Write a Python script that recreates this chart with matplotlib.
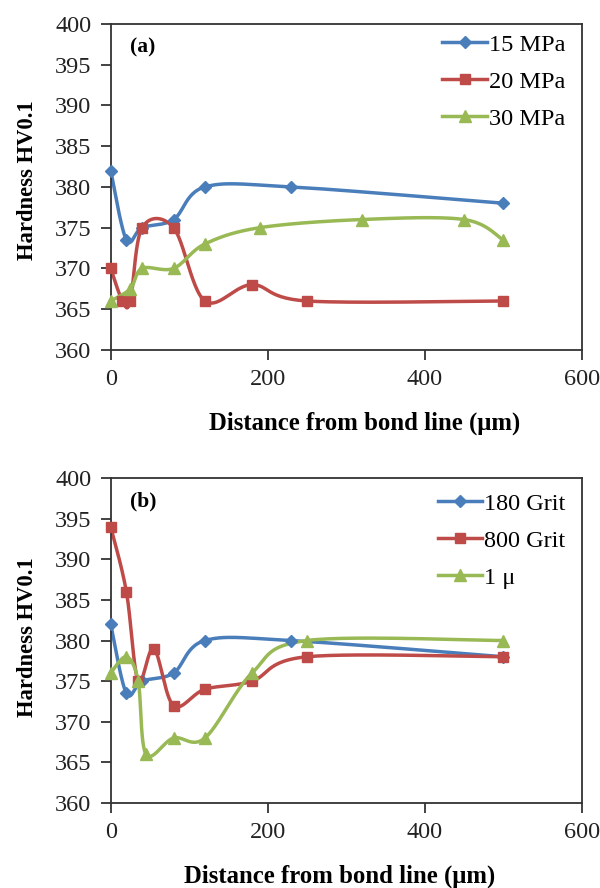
import numpy as np
import matplotlib
matplotlib.use("Agg")
import matplotlib.pyplot as plt

plt.rcParams['font.family'] = ['Liberation Serif', 'DejaVu Serif']

# panel (a): bonding pressure
a_x_15 = [0, 20, 40, 80, 120, 230, 500]
a_y_15 = [382, 373.5, 375, 376, 380, 380, 378]
a_x_20 = [0, 15, 25, 40, 80, 120, 180, 250, 500]
a_y_20 = [370, 366, 366, 375, 375, 366, 368, 366, 366]
a_x_30 = [0, 25, 40, 80, 120, 190, 320, 450, 500]
a_y_30 = [366, 367.5, 370, 370, 373, 375, 376, 376, 373.5]

# panel (b): surface finish
b_x_180 = [0, 20, 40, 80, 120, 230, 500]
b_y_180 = [382, 373.5, 375, 376, 380, 380, 378]
b_x_800 = [0, 20, 35, 55, 80, 120, 180, 250, 500]
b_y_800 = [394, 386, 375, 379, 372, 374, 375, 378, 378]
b_x_1u = [0, 20, 35, 45, 80, 120, 180, 250, 500]
b_y_1u = [376, 378, 375, 366, 368, 368, 376, 380, 380]

blue = '#4A7EBB'
red = '#BE4B48'
green = '#98B954'


def smooth(x, y, n=30):
    # excel-like smoothed line (catmull-rom through the points)
    p = np.column_stack([x, y]).astype(float)
    p = np.vstack([p[0], p, p[-1]])
    out = []
    for i in range(1, len(p) - 2):
        p0, p1, p2, p3 = p[i - 1], p[i], p[i + 1], p[i + 2]
        c1 = p1 + (p2 - p0) / 6
        c2 = p2 - (p3 - p1) / 6
        t = np.linspace(0, 1, n)[:, None]
        seg = (1 - t)**3 * p1 + 3 * (1 - t)**2 * t * c1 + 3 * (1 - t) * t**2 * c2 + t**3 * p2
        out.append(seg)
    out = np.vstack(out)
    return out[:, 0], out[:, 1]


def series(ax, x, y, color, marker, ms, label):
    sx, sy = smooth(x, y)
    ax.plot(sx, sy, color=color, lw=2.5, zorder=2, clip_on=False)
    ax.plot(x, y, ls='none', marker=marker, ms=ms, color=color, zorder=3, clip_on=False)
    # proxy for legend
    ax.plot([], [], color=color, lw=2.5, marker=marker, ms=ms, label=label)


def style(ax, tag, xlab_pos, ylab_pos, leg_top):
    ax.set_xlim(0, 600)
    ax.set_ylim(360, 400)
    ax.set_xticks([0, 200, 400, 600])
    ax.set_yticks(np.arange(360, 401, 5))
    ax.tick_params(direction='out', length=7, width=1.2, labelsize=17.5, colors='#222222', pad=7)
    for s in ax.spines.values():
        s.set_linewidth(1.3)
        s.set_color('#333333')
    ax.set_xlabel('Distance from bond line (μm)', fontsize=17.8, fontweight='bold')
    ax.xaxis.set_label_coords(xlab_pos, -0.19)
    ax.set_ylabel('Hardness HV0.1', fontsize=16.3, fontweight='bold')
    ax.yaxis.set_label_coords(-0.155, ylab_pos)
    ax.text(0.04, 0.96, tag, transform=ax.transAxes, fontsize=15.5, fontweight='bold',
            va='top', ha='left')
    ax.legend(loc='upper right', bbox_to_anchor=(0.975, leg_top), frameon=False, fontsize=17.5,
              handlelength=1.85, handletextpad=0.05, labelspacing=0.62,
              borderaxespad=0, borderpad=0.2)


fig = plt.figure(figsize=(6, 8.88), dpi=100)

ax1 = fig.add_axes([0.1845, 0.606, 0.785, 0.367])
series(ax1, a_x_15, a_y_15, blue, 'D', 6.5, '15 MPa')
series(ax1, a_x_20, a_y_20, red, 's', 7, '20 MPa')
series(ax1, a_x_30, a_y_30, green, '^', 8, '30 MPa')
style(ax1, '(a)', 0.54, 0.52, 0.985)

ax2 = fig.add_axes([0.1845, 0.0957, 0.785, 0.366])
series(ax2, b_x_180, b_y_180, blue, 'D', 6.5, '180 Grit')
series(ax2, b_x_800, b_y_800, red, 's', 7, '800 Grit')
series(ax2, b_x_1u, b_y_1u, green, '^', 8, '1 μ')
style(ax2, '(b)', 0.485, 0.51, 0.97)

fig.savefig('out.png', dpi=100)
